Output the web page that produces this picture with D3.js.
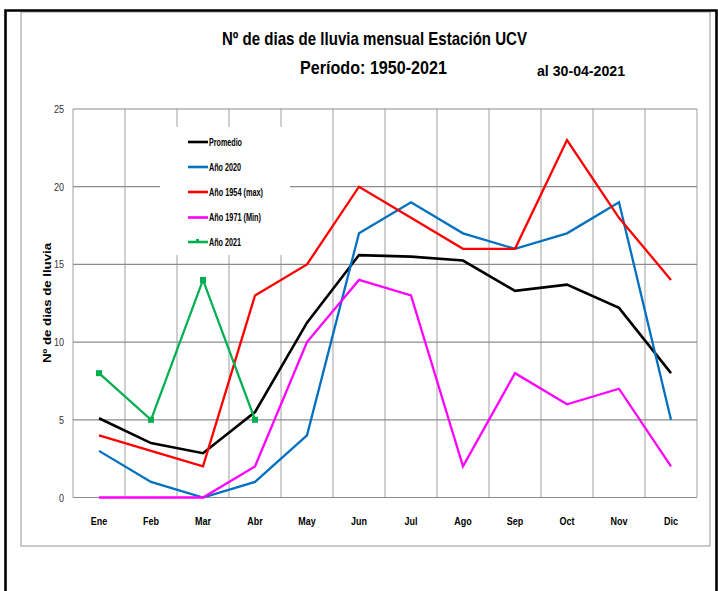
<!DOCTYPE html>
<html>
<head>
<meta charset="utf-8">
<script src="https://cdn.jsdelivr.net/npm/d3@7"></script>
<style>
  html, body { margin: 0; padding: 0; background: #fff; }
  svg { display: block; }
</style>
</head>
<body>
<svg id="chart" width="718" height="591"></svg>
<script>
const months = ["Ene","Feb","Mar","Abr","May","Jun","Jul","Ago","Sep","Oct","Nov","Dic"];
const promedio = [5.1, 3.5, 2.85, 5.5, 11.25, 15.6, 15.5, 15.25, 13.3, 13.7, 12.2, 8.0];
const ano2020  = [3, 1, 0, 1, 4, 17, 19, 17, 16, 17, 19, 5];
const ano1954  = [4, 3, 2, 13, 15, 20, 18, 16, 16, 23, 18, 14];
const ano1971  = [0, 0, 0, 2, 10, 14, 13, 2, 8, 6, 7, 2];
const ano2021  = [8, 5, 14, 5];
const yTicks   = [0, 5, 10, 15, 20, 25];

const seriesNames = ["Promedio", "Año 2020", "Año 1954 (max)", "Año 1971 (Min)", "Año 2021"];
const seriesVals  = [promedio, ano2020, ano1954, ano1971, ano2021];
const seriesColors = ["#000000", "#0070c0", "#ff0000", "#ff00ff", "#00b050"];

const svg = d3.select("#chart");
const sans = "'Liberation Sans', Arial, sans-serif";

// condense text horizontally (Calibri-like narrowness)
function condense(sel, factor) {
  sel.each(function () {
    const w = this.getComputedTextLength();
    d3.select(this).attr("textLength", w * factor).attr("lengthAdjust", "spacingAndGlyphs");
  });
}

// frames
svg.append("rect").attr("x", 21).attr("y", 12).attr("width", 689).attr("height", 534)
  .attr("fill", "none").attr("stroke", "#a6a6a6").attr("stroke-width", 1.2);
svg.append("path").attr("d", "M5.5,600 L5.5,10.5 L716.5,10.5 L716.5,600")
  .attr("fill", "none").attr("stroke", "#000").attr("stroke-width", 2.6);

const pL = 73, pR = 697, pT = 109, pB = 497.5;
const x = d3.scaleBand().domain(months).range([pL, pR]);
const y = d3.scaleLinear().domain([0, 25]).range([pB, pT]);
const cx = m => x(m) + x.bandwidth() / 2;

// vertical gridlines (category boundaries)
const vlines = months.map(m => x(m)).concat([pR]);
svg.append("g").selectAll("line").data(vlines).join("line")
  .attr("x1", d => d).attr("x2", d => d).attr("y1", pT).attr("y2", pB)
  .attr("stroke", "#c4c4c4").attr("stroke-width", 1.6);

// horizontal gridlines
svg.append("g").selectAll("line").data(yTicks).join("line")
  .attr("x1", pL).attr("x2", pR).attr("y1", d => y(d)).attr("y2", d => y(d))
  .attr("stroke", "#8c8c8c").attr("stroke-width", 1.2);

// y axis labels
const yAxis = d3.axisLeft(y).tickValues(yTicks).tickSize(0).tickPadding(9);
const gy = svg.append("g").attr("transform", `translate(${pL},0)`).call(yAxis);
gy.select(".domain").remove();
gy.selectAll("text").attr("font-family", sans).attr("font-size", 11).attr("fill", "#333");
condense(gy.selectAll("text"), 0.82);

// x axis labels
const xAxis = d3.axisBottom(x).tickSize(0).tickPadding(19);
const gx = svg.append("g").attr("transform", `translate(0,${pB})`).call(xAxis);
gx.select(".domain").remove();
gx.selectAll("text").attr("font-family", sans).attr("font-size", 11.5).attr("font-weight", "bold").attr("fill", "#000");
condense(gx.selectAll("text"), 0.78);

// series lines
const line = d3.line().x((d, i) => cx(months[i])).y(d => y(d));
seriesVals.forEach((vals, k) => {
  svg.append("path").datum(vals).attr("d", line)
    .attr("fill", "none").attr("stroke", seriesColors[k]).attr("stroke-width", k === 0 ? 2.6 : 2.3)
    .attr("stroke-linejoin", "miter");
});
// markers for 2021
svg.append("g").selectAll("rect").data(ano2021).join("rect")
  .attr("x", (d, i) => cx(months[i]) - 3).attr("y", d => y(d) - 3)
  .attr("width", 6).attr("height", 6).attr("fill", "#00b050");

// legend
svg.append("rect").attr("x", 160).attr("y", 127).attr("width", 130).attr("height", 128).attr("fill", "#fff");
const lg = svg.append("g");
const legY = [142, 167, 192, 217.5, 242];
const legW = [33, 32, 54, 52, 32];
seriesNames.forEach((name, k) => {
  lg.append("line").attr("x1", 188).attr("x2", 208).attr("y1", legY[k]).attr("y2", legY[k])
    .attr("stroke", seriesColors[k]).attr("stroke-width", 2.6);
  if (k === 4) {
    lg.append("rect").attr("x", 196).attr("y", legY[k] - 3).attr("width", 3).attr("height", 3).attr("fill", seriesColors[k]);
  }
  lg.append("text").attr("x", 209).attr("y", legY[k] + 3.5).text(name)
    .attr("font-family", sans).attr("font-size", 10).attr("font-weight", "bold").attr("fill", "#000")
    .attr("textLength", legW[k]).attr("lengthAdjust", "spacingAndGlyphs");
});

// titles
svg.append("text").attr("x", 374.5).attr("y", 45).attr("text-anchor", "middle")
  .attr("font-family", sans).attr("font-size", 19).attr("font-weight", "bold")
  .attr("textLength", 305).attr("lengthAdjust", "spacingAndGlyphs")
  .text("Nº de dias de lluvia mensual Estación UCV");
svg.append("text").attr("x", 373.5).attr("y", 74).attr("text-anchor", "middle")
  .attr("font-family", sans).attr("font-size", 19).attr("font-weight", "bold")
  .attr("textLength", 147).attr("lengthAdjust", "spacingAndGlyphs")
  .text("Período:  1950-2021");
svg.append("text").attr("x", 581).attr("y", 76).attr("text-anchor", "middle")
  .attr("font-family", sans).attr("font-size", 15.5).attr("font-weight", "bold")
  .attr("textLength", 88).attr("lengthAdjust", "spacingAndGlyphs")
  .text("al 30-04-2021");

// y axis title
svg.append("text").attr("transform", "translate(51,303) rotate(-90)").attr("text-anchor", "middle")
  .attr("font-family", sans).attr("font-size", 11).attr("font-weight", "bold")
  .attr("textLength", 120).attr("lengthAdjust", "spacingAndGlyphs")
  .text("Nº de dias de lluvia");
</script>
</body>
</html>
